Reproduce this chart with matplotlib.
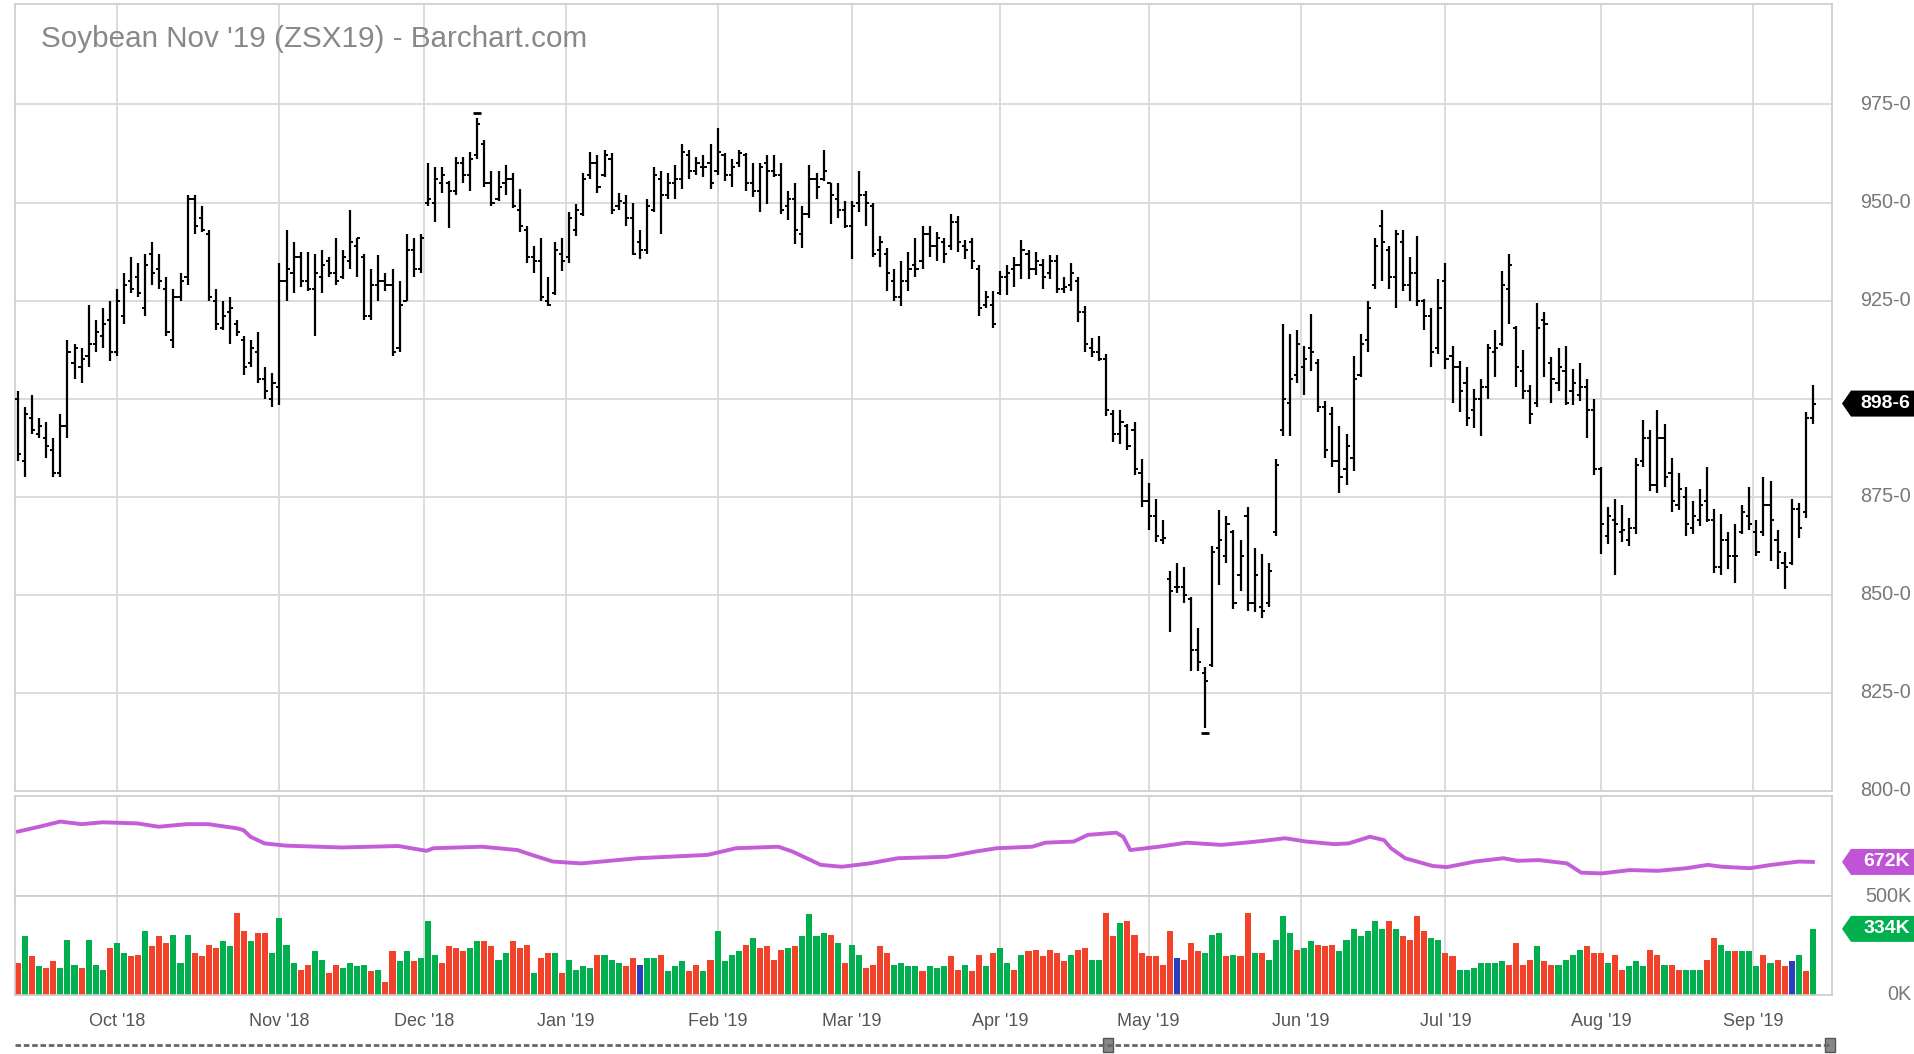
import numpy as np
import pandas as pd
import matplotlib
matplotlib.use("Agg")
import matplotlib.pyplot as plt
from matplotlib.patches import Polygon
from matplotlib.transforms import IdentityTransform

plt.rcParams['font.family'] = ['Liberation Sans', 'DejaVu Sans']

TITLE = "Soybean Nov '19 (ZSX19) - Barchart.com"
START, END = "2018-09-11", "2019-09-13"
HOLIDAYS = ["2018-11-22", "2018-12-25", "2019-01-01", "2019-01-21", "2019-02-18",
            "2019-04-19", "2019-05-27", "2019-07-04", "2019-09-02"]

opens = [900,884,895,891,890,887,881,893,909,908,911,914,916,920,912,921,930,931,923,937,
         933,928,915,926,931,951,946,942,925,918,922,919,915,909,912,905,900,903,930,932,
         936,930,928,931,935,932,931,935,939,936,921,929,930,929,913,925,938,933,950,950,
         955,955,953,960,957,962,965,955,951,955,956,948,943,936,935,925,927,937,936,943,
         947,957,960,957,961,949,950,946,940,938,948,956,952,955,956,962,958,959,960,
         958,962,957,960,962,955,953,960,958,957,949,951,942,947,956,956,955,951,948,944,
         950,952,949,938,937,930,926,930,934,935,942,939,940,939,945,939,940,933,924,924,
         927,931,933,934,937,933,934,932,935,928,929,930,922,913,912,910,896,891,893,892,
         881,874,870,864,854,852,852,849,836,830,832,862,860,866,855,870,848,847,848,866,
         892,899,906,908,913,909,898,896,884,882,885,906,915,929,944,938,931,940,929,932,
         925,921,913,930,911,908,904,897,900,903,912,914,928,918,907,902,899,920,909,904,
         907,902,901,903,897,882,865,869,866,864,867,884,890,878,890,881,873,875,867,869,
         874,869,857,864,860,866,870,866,866,873,864,858,858,872,871,895]
highs = [902,898,901,895,894,890,896,915,914,913,924,920,923,925,928,932,936,934.5,937,940,
         937,931,928,932,952,952,949,943,928,925,926,920,916,915,917,908,906.5,934.5,943,940,
         937.5,937.5,937,938,936,941,938,948,941,937,933,936.5,932,933,930,942,941,942,960,959,
         959,955.5,961.5,961.5,963,971.5,966,958,958,959.5,957.5,953.5,944,939,941,931,940,941,947.5,949.5,
         957.5,963,962,963.5,962.5,952.5,952,950,943,951,959,958,957.5,959.5,965,963.5,961.5,962,965,
         969,962.5,961,963.5,962.5,960,960,962,962,960,953,955,949,959.5,957.5,963.5,955,955,950.5,950.5,
         958,953,950,941.5,938.5,933,935,937.5,941,944,944,942.5,941,947,946.5,940.5,941,934,927.5,927.5,
         932.5,934,936,940.5,938,937.5,935.5,936.5,936.5,931,934.5,931,923.5,915.5,916,911.5,897,897,893.5,894,
         884.5,878.5,874.5,869,856,858,857,849.5,841.5,831.5,862.5,871.5,870,866.5,864,872.5,862,860.5,858,884.5,
         919,916.5,917.5,913.5,921.5,910,899.5,898,893,891,911,916.5,925,941,948,939,943,943,936,941.5,
         925.5,923,930.5,934.5,913.5,909.5,908,902.5,905,914,917.5,932.5,937,918.5,912.5,903.5,924.5,922,910.5,913,
         913.5,907.5,909,905,900,882.5,872.5,874.5,873,869.5,885,894.5,892,897,893.5,885,881,877.5,874,877,
         882.5,872,870.5,866,868,873,877.5,869,880,879,866.5,861,874.5,873.5,896.5,903.5]
lows = [884,880,891,890,885,880,880,890,905,904,908,912,913,909.5,911,919,927,926,921,929,
        928,916,913,925,929,942,942.5,925,917.5,917.5,914,916,906,908,904,900,898,898.5,925,927,
        928.5,927.5,916,927,931,929,930.5,933,931,920,920,925,927.5,911,912,925,931,932,949,945,
        952.5,943.5,952,955,953,961,954,949,950.5,952,948.5,942.5,934.5,932,925,923.5,926.5,932.5,934.5,941.5,
        946.5,956,952.5,956.5,947,948,944,936.5,935.5,937,947.5,942,951,951,953.5,956,957,956.5,953.5,
        957,955.5,954,959,953,951.5,947.5,949.5,956.5,947,945.5,939.5,938.5,946,951,955.5,944.5,946,943.5,935.5,
        947.5,944,936,933.5,927.5,925,923.5,927.5,931,933,936,935,934.5,938,937.5,935.5,933,921,923,918,
        926.5,926.5,928.5,930.5,930.5,931.5,928,930.5,927,927,927.5,919.5,912,910.5,909.5,895.5,889,888.5,887,880.5,
        872.5,866.5,863.5,863,840.5,850.5,848,830.5,830.5,816,831.5,852.5,858,846.5,851,846,845.5,844,847,865,
        890.5,890.5,904,901,907,896.5,885,882.5,876,878,881.5,905.5,912,928,930,928,923,927.5,925,923.5,
        917.5,908,911.5,907.5,899,896.5,893,892.5,890.5,900,905.5,913.5,919,903,900,893.5,898,905.5,899,902,
        898.5,898.5,899.5,890,880.5,860.5,863,855,863.5,862.5,865.5,882.5,876.5,876,877.5,871,871.5,865,865.5,867.5,
        868.5,855.5,855,856.5,853,865.5,866.5,860,865,858.5,856.5,851.5,857.5,864.5,869.5,893.5]
closes = [886,896,892,893,888,881,893,912,913,910,914,917,919,912,925,929,928,927,934,932,
          930,917,926,930,951,944,943,926,919,921,923,917,908,913,905,902,904,930,933,936,
          930,928,932,934,932,930,936,940,941,921,929,930,929,912,924,938,933,941,951,956,
          957,953,960,957,961,970,955,950,954,956,949,944,936,935,926,924,938,935,946,948,
          956,960,954,962,948,950.5,946,937,938,949,957,952,955,956,963,958,960,959,955,
          963,957,959,962.5,955,953,959,958,957,948,951,943,947,956,954,958,952,948,944,949,
          952,950,937,940,932,926,930,933,933,942,939,941,937,945,940,938,935,923,926,919,
          931,932,934,938,933,935,931,935,928,928.5,932,922,914,912,910,897,891,894,888,882,
          874,870,865,864.5,851,852,850,836,833,828,861,864,868,848,860,848,855,846,856,883,
          900,905,914,910,912,898,887,884,880,888,905,914,923,939,940,931,942,929,932,925,
          921,912,923,910,908,902,895,900,903,913,913,929,934,908,902,896,918,919,905,908,
          899,904,903,897,882,868,870,868,866.5,867,883,890,878,890,880,874,877,868,870,873,
          869,857,864,860,860,871,868,861,873,869,861,857,872,867,895,898.75]

VOL_K = [161,297,195,144,136,170,136,280,153,136,280,153,127,237,263,212,195,203,322,246,
         297,263,305,161,305,212,195,254,237,271,246,415,322,271,314,314,212,390,254,161,
         127,153,220,178,110,153,136,161,147,153,119,127,68,220,170,220,170,186,373,203,
         161,246,237,220,237,271,271,246,178,212,271,237,254,110,186,212,212,110,178,127,
         144,136,203,203,178,161,144,186,153,186,186,203,119,144,170,119,153,119,178,322,
         170,203,220,254,288,237,246,178,229,237,246,297,407,297,314,305,263,161,254,203,
         136,153,246,212,153,161,144,144,119,144,136,144,195,127,153,119,203,144,212,
         237,161,127,203,220,229,195,229,212,170,203,229,237,178,178,415,297,364,373,305,
         212,195,195,153,322,186,178,263,220,212,305,314,195,203,195,412,212,212,178,280,
         398,314,229,237,271,254,246,254,220,280,331,297,322,373,331,373,331,297,280,398,
         322,288,280,212,195,127,127,136,161,161,161,170,153,263,153,178,246,170,153,153,
         178,203,229,246,212,212,161,203,127,144,170,144,229,203,153,153,127,127,127,127,
         178,288,254,220,220,220,220,144,203,161,178,144,170,203,119,334]
VOL_DIR = ("RGRGRRGGGR" "GGGRGGRRGR" "RRGGGRRRRG" "GRRGRRGGGG" "RRGGRRGGGG"
           "RGRRGGRGGG" "RRRRGGRRGG" "RRRGRRGRGG" "GGRGGGRRBG" "GRGGGRRGRG"
           "GGGRGRRRRG" "RGGGGRGRGG" "RRRRGGGGRG" "GGR"
           "RGRRGR" "GGRGRRRRRR" "GRRGGRRGRR" "RRRRRBRRRG" "GGRGRRGRGG"
           "GGRGGRRRGG" "GGGGGRGRRR" "RGGRRGGGGG" "GGRRRRGRRG" "GGGRRRGRRG"
           "GGRRGRRGGG" "RRGGRGGGRG" "RRBGRG")

OI_POS = [0,3,6,9,12,16.9,19.9,23.9,26.9,30.9,31.9,32.9,34.9,37.9,45.8,53.8,57.8,58.8,65.7,70.7,
          72.7,75.7,79.7,87.7,97.6,101.6,107.6,109.6,113.6,116.6,120.5,124.5,131.5,135.5,138.5,
          143.5,145.4,149.4,151.4,155.4,156.4,157.4,161.4,165.4,170.3,175.3,179.3,182.3,186.3,188.3,
          191.3,193.3,194.3,196.3,200.2,202.2,206.2,210.2,212.2,215.2,219.2,221.2,224.1,228.1,232.1,
          236.1,239.1,241.1,245.1,248.1,252.0,254.0]
OI_K = [754,767,781,774,779,776,767,774,774,763,758,740,722,716,711,715,702,709,713,704,691,673,
        668,682,691,709,713,700,664,659,668,682,686,700,709,713,724,727,745,751,740,704,713,724,
        718,727,736,727,720,722,740,731,709,682,661,658,673,682,675,677,668,643,641,650,648,655,
        664,659,655,664,673,672]

GREEN, RED, BLUE = "#00b04f", "#f2432a", "#2a3fbf"
OI_COLOR = "#c054d6"
GRID = "#d9d9d9"
LABEL_GRAY = "#777777"

dates = pd.bdate_range(START, END).difference(pd.to_datetime(HOLIDAYS))
n = len(dates)
assert len(opens) == len(highs) == len(lows) == len(closes) == n
assert len(VOL_K) == n and len(VOL_DIR) == n
idx = np.arange(n)
col_map = {"G": GREEN, "R": RED, "B": BLUE}
vcolors = [col_map[c] for c in VOL_DIR]

W, H = 1915, 1054
fig = plt.figure(figsize=(W / 100, H / 100), dpi=100)

def px_axes(left, top, right, bottom):
    return fig.add_axes([left / W, 1 - bottom / H, (right - left) / W, (bottom - top) / H])

XL = (-0.42, 256.7)
ax = px_axes(15, 4, 1832, 791)
ax_oi = px_axes(15, 796, 1832, 896)
ax_v = px_axes(15, 896, 1832, 995)

# month boundaries: on the 1st, or halfway before the first session when the 1st is closed
mpos, mlab = [], []
for i in range(1, n):
    if dates[i].month != dates[i - 1].month:
        mpos.append(i if dates[i].day == 1 else i - 0.5)
        mlab.append(dates[i].strftime("%b '%y"))

for a in (ax, ax_oi, ax_v):
    a.set_xlim(*XL)
    for s in a.spines.values():
        s.set_color("#cccccc")
        s.set_linewidth(1.2)
    a.set_xticks([])
    a.set_yticks([])
    for p in mpos:
        a.axvline(p, color=GRID, lw=1.3, zorder=0)

# price pane
last = closes[-1]
ax.set_ylim(800, 1000.6)
for lvl in [825, 850, 875, 900, 925, 950, 975]:
    ax.axhline(lvl, color=GRID, lw=1.3, zorder=0)
ax.vlines(idx, lows, highs, color="black", lw=1.6, zorder=3)
ax.hlines(opens, idx - 0.45, idx, color="black", lw=1.4, zorder=3)
ax.hlines(closes, idx, idx + 0.45, color="black", lw=1.4, zorder=3)
for lvl in [800, 825, 850, 875, 900, 925, 950, 975]:
    if abs(lvl - last) < 6:
        continue  # hidden behind the last-price tag
    ax.text(1.0435, lvl, f"{lvl}-0", transform=ax.get_yaxis_transform(), ha="right",
            va="center", fontsize=14.3, color=LABEL_GRAY, clip_on=False)
ax.text(0.0145, 0.955, TITLE, transform=ax.transAxes, fontsize=21.3, color="#888888",
        ha="left", va="center")
ih, il = int(np.argmax(highs)), int(np.argmin(lows))
ax.plot([ih], [highs[ih] + 1.3], marker="_", color="black", ms=6, mew=2)
ax.plot([il], [lows[il] - 1.3], marker="_", color="black", ms=6, mew=2)

# open interest pane
ax_oi.set_ylim(580, 850)
ax_oi.plot(OI_POS, OI_K, color=OI_COLOR, lw=2.8, alpha=0.95, solid_joinstyle="round")

# volume pane
ax_v.set_ylim(0, 500)
ax_v.bar(idx, VOL_K, width=0.86, color=vcolors, linewidth=0, zorder=2)
ax_v.text(1.0435, 500, "500K", transform=ax_v.get_yaxis_transform(), ha="right",
          va="center", fontsize=14.3, color=LABEL_GRAY, clip_on=False)
ax_v.text(1.0435, 0, "0K", transform=ax_v.get_yaxis_transform(), ha="right",
          va="center", fontsize=14.3, color=LABEL_GRAY, clip_on=False)
for p, lab in zip(mpos, mlab):
    ax_v.text(p, -0.265, lab, transform=ax_v.get_xaxis_transform(), ha="center", va="center",
              fontsize=13, color="#555555")

fig.canvas.draw()

def tag(axis, value, text, color):
    y = axis.transData.transform((0, value))[1]
    x0 = 1842
    verts = [(x0, y), (x0 + 9, y + 13), (W, y + 13), (W, y - 13), (x0 + 9, y - 13)]
    fig.patches.append(Polygon(verts, closed=True, transform=IdentityTransform(),
                               facecolor=color, edgecolor="none", figure=fig, zorder=5))
    fig.text((W - 5) / W, y / H, text, ha="right", va="center", color="white",
             fontsize=14, fontweight="bold", zorder=6)

tag(ax, last, "898-6", "black")
tag(ax_oi, OI_K[-1], f"{OI_K[-1]}K", OI_COLOR)
tag(ax_v, VOL_K[-1], f"{VOL_K[-1]}K", GREEN)

# navigator strip
ny = 1 - 1045 / H
fig.lines.append(plt.Line2D([15 / W, 1832 / W], [ny, ny], color="#666666", lw=2,
                            ls=(0, (2, 1)), transform=fig.transFigure))
for hx in (1108, 1830):
    fig.patches.append(plt.Rectangle(((hx - 5) / W, 1 - 1052 / H), 10 / W, 14 / H,
                                     transform=fig.transFigure, facecolor="#888888",
                                     edgecolor="#555555", figure=fig))

fig.savefig("out.png", dpi=100)
